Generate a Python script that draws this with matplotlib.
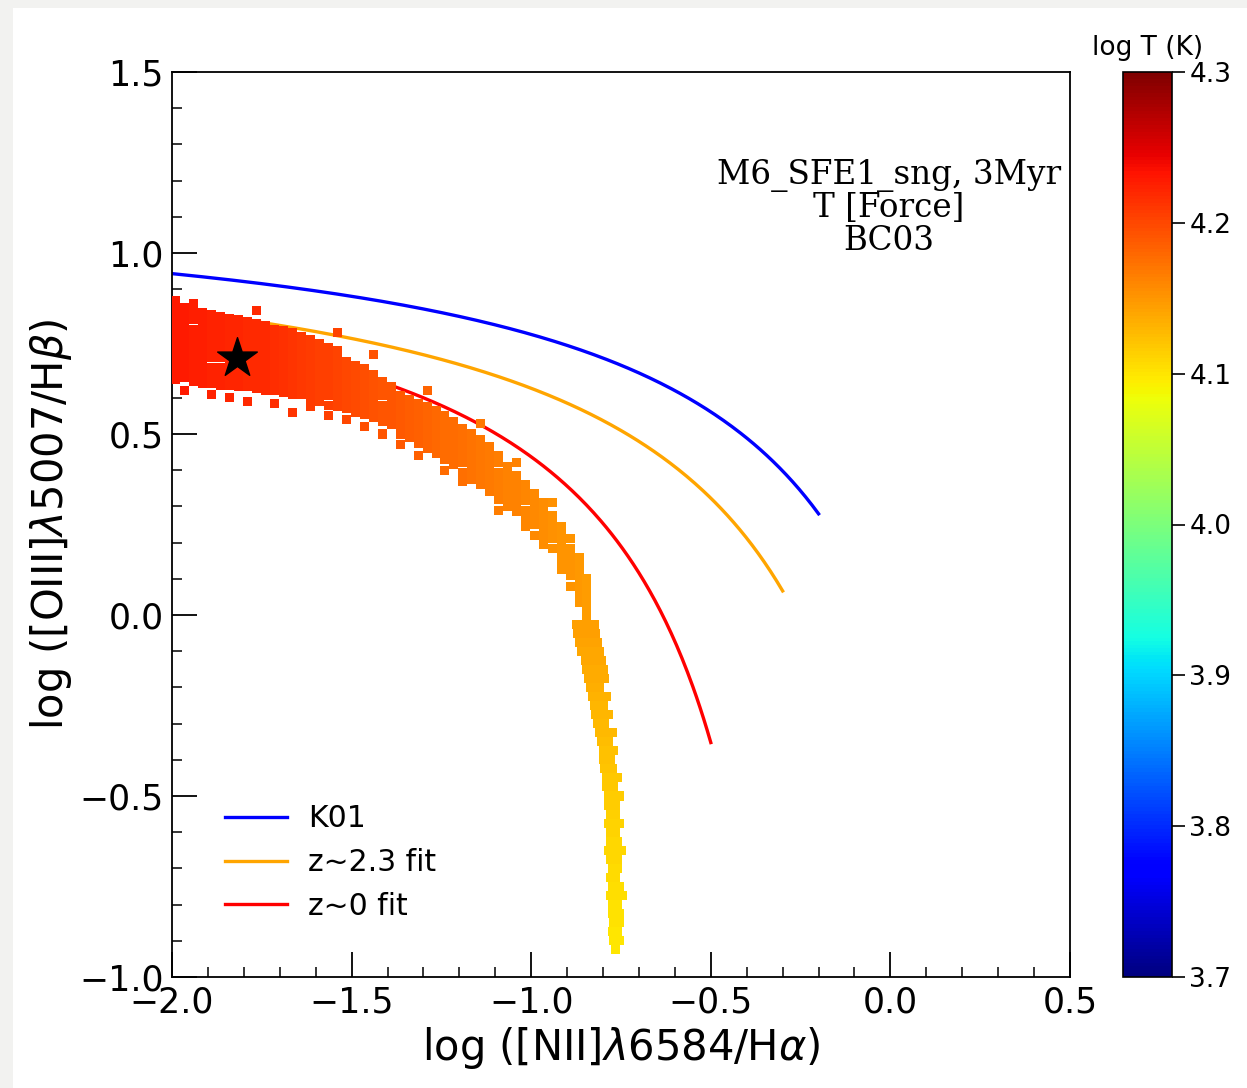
import numpy as np
import matplotlib
matplotlib.use("Agg")
import matplotlib.pyplot as plt
from matplotlib.patches import Rectangle
from matplotlib.ticker import MultipleLocator

# ---------------- data ----------------
# upper branch of the simulated points: column x and the y values in it
cols_x = [-1.99, -1.965, -1.94, -1.915, -1.89, -1.865, -1.84, -1.815, -1.79, -1.765,
          -1.74, -1.715, -1.69, -1.665, -1.64, -1.615, -1.59, -1.565, -1.54, -1.515,
          -1.49, -1.465, -1.44, -1.415, -1.39, -1.365, -1.34, -1.315, -1.29, -1.265,
          -1.24, -1.215, -1.19, -1.165, -1.14, -1.115, -1.09, -1.065, -1.04, -1.015,
          -0.99, -0.965, -0.94, -0.915, -0.89, -0.865, -0.845]
cols_y = [
    [0.65, 0.675, 0.70, 0.725, 0.75, 0.77, 0.795, 0.82, 0.845, 0.87],
    [0.655, 0.68, 0.705, 0.73, 0.755, 0.78, 0.80, 0.825, 0.85, 0.62],
    [0.645, 0.67, 0.695, 0.72, 0.745, 0.77, 0.79, 0.815, 0.84, 0.86],
    [0.64, 0.665, 0.69, 0.715, 0.74, 0.765, 0.79, 0.81, 0.835],
    [0.64, 0.66, 0.685, 0.71, 0.735, 0.76, 0.785, 0.805, 0.83, 0.61],
    [0.635, 0.66, 0.685, 0.71, 0.73, 0.755, 0.78, 0.80, 0.825],
    [0.635, 0.655, 0.68, 0.705, 0.73, 0.755, 0.775, 0.80, 0.82, 0.60],
    [0.63, 0.655, 0.68, 0.70, 0.725, 0.75, 0.775, 0.795, 0.815],
    [0.63, 0.65, 0.675, 0.70, 0.72, 0.745, 0.77, 0.79, 0.81, 0.59],
    [0.625, 0.65, 0.67, 0.695, 0.72, 0.74, 0.765, 0.785, 0.805, 0.84],
    [0.62, 0.645, 0.67, 0.69, 0.715, 0.74, 0.76, 0.78, 0.80],
    [0.62, 0.64, 0.665, 0.69, 0.71, 0.735, 0.755, 0.775, 0.79, 0.585],
    [0.615, 0.64, 0.66, 0.685, 0.705, 0.73, 0.75, 0.77, 0.785],
    [0.61, 0.635, 0.655, 0.68, 0.70, 0.725, 0.745, 0.765, 0.78, 0.56],
    [0.61, 0.63, 0.655, 0.675, 0.70, 0.72, 0.74, 0.76, 0.77],
    [0.60, 0.625, 0.645, 0.67, 0.69, 0.715, 0.735, 0.76, 0.575],
    [0.59, 0.615, 0.64, 0.66, 0.685, 0.705, 0.73, 0.75],
    [0.58, 0.605, 0.63, 0.65, 0.675, 0.70, 0.72, 0.74, 0.55],
    [0.575, 0.60, 0.62, 0.645, 0.665, 0.69, 0.71, 0.73, 0.78],
    [0.57, 0.59, 0.615, 0.635, 0.66, 0.68, 0.70, 0.54],
    [0.56, 0.585, 0.605, 0.63, 0.65, 0.67, 0.69],
    [0.555, 0.575, 0.60, 0.62, 0.645, 0.665, 0.68, 0.52],
    [0.545, 0.57, 0.59, 0.615, 0.635, 0.655, 0.665, 0.72],
    [0.535, 0.56, 0.58, 0.605, 0.625, 0.645, 0.50],
    [0.525, 0.545, 0.57, 0.59, 0.61, 0.63],
    [0.50, 0.525, 0.545, 0.565, 0.585, 0.605, 0.47],
    [0.49, 0.515, 0.535, 0.555, 0.575, 0.595],
    [0.475, 0.50, 0.52, 0.54, 0.565, 0.585, 0.44],
    [0.46, 0.485, 0.505, 0.53, 0.55, 0.575, 0.62],
    [0.445, 0.47, 0.49, 0.515, 0.54, 0.565],
    [0.43, 0.455, 0.475, 0.50, 0.525, 0.55, 0.40],
    [0.415, 0.44, 0.46, 0.485, 0.51, 0.535],
    [0.395, 0.42, 0.445, 0.47, 0.49, 0.515, 0.37],
    [0.375, 0.40, 0.425, 0.45, 0.475, 0.50],
    [0.36, 0.385, 0.41, 0.435, 0.46, 0.485, 0.53],
    [0.34, 0.365, 0.39, 0.415, 0.44, 0.465],
    [0.32, 0.345, 0.37, 0.395, 0.42, 0.44, 0.29],
    [0.30, 0.325, 0.35, 0.375, 0.395, 0.41],
    [0.285, 0.31, 0.335, 0.36, 0.385, 0.42],
    [0.27, 0.29, 0.315, 0.34, 0.36, 0.245],
    [0.25, 0.27, 0.295, 0.315, 0.335, 0.22],
    [0.22, 0.245, 0.27, 0.29, 0.31, 0.195],
    [0.185, 0.21, 0.23, 0.255, 0.275, 0.31],
    [0.15, 0.175, 0.195, 0.22, 0.245, 0.125],
    [0.11, 0.135, 0.16, 0.185, 0.21, 0.08],
    [0.06, 0.085, 0.11, 0.135, 0.16, 0.035],
    [0.00, 0.025, 0.05, 0.075, 0.10],
]
cols_t = [4.228, 4.228, 4.226, 4.226, 4.224, 4.224, 4.222, 4.222, 4.220, 4.220,
          4.218, 4.216, 4.214, 4.212, 4.210, 4.208, 4.206, 4.204, 4.202, 4.200,
          4.198, 4.196, 4.194, 4.192, 4.190, 4.188, 4.186, 4.184, 4.182, 4.180,
          4.178, 4.176, 4.174, 4.172, 4.170, 4.168, 4.166, 4.164, 4.162, 4.160,
          4.158, 4.156, 4.154, 4.152, 4.150, 4.148, 4.146]

# lower (near-vertical) branch: row y and the x values in it
rows_y = [-0.025, -0.05, -0.075, -0.10, -0.125, -0.15, -0.175, -0.20, -0.225, -0.25,
          -0.275, -0.30, -0.325, -0.35, -0.375, -0.40, -0.425, -0.45, -0.475, -0.50,
          -0.525, -0.55, -0.575, -0.60, -0.625, -0.65, -0.675, -0.70, -0.725, -0.75,
          -0.775, -0.80, -0.825, -0.85, -0.875, -0.90, -0.925]
rows_x = [
    [-0.875, -0.85, -0.825], [-0.87, -0.845, -0.82], [-0.865, -0.84, -0.815],
    [-0.86, -0.835, -0.81], [-0.85, -0.83, -0.805], [-0.845, -0.82, -0.80],
    [-0.84, -0.815, -0.795], [-0.835, -0.81], [-0.83, -0.805, -0.79],
    [-0.825, -0.80], [-0.82, -0.80, -0.785], [-0.815, -0.795],
    [-0.81, -0.79, -0.775], [-0.805, -0.785], [-0.80, -0.78, -0.77],
    [-0.80, -0.78], [-0.795, -0.775], [-0.79, -0.775, -0.76],
    [-0.79, -0.77], [-0.785, -0.77, -0.755], [-0.785, -0.765],
    [-0.78, -0.765], [-0.785, -0.77, -0.755], [-0.78, -0.765],
    [-0.78, -0.76], [-0.785, -0.765, -0.75], [-0.78, -0.76],
    [-0.775, -0.76], [-0.78, -0.765], [-0.775, -0.755],
    [-0.78, -0.76, -0.745], [-0.775, -0.76], [-0.775, -0.755],
    [-0.77, -0.755], [-0.775, -0.76], [-0.77, -0.755], [-0.765],
]
rows_t = [4.145, 4.144, 4.142, 4.140, 4.139, 4.137, 4.136, 4.134, 4.133, 4.131,
          4.130, 4.128, 4.127, 4.125, 4.124, 4.122, 4.121, 4.119, 4.118, 4.116,
          4.115, 4.113, 4.112, 4.111, 4.110, 4.109, 4.108, 4.107, 4.106, 4.105,
          4.104, 4.103, 4.102, 4.101, 4.100, 4.100, 4.100]

star_x, star_y = [-1.82], [0.71]

# demarcation curves: y = a / (x - b) + c, drawn up to x_end
curve_labels = ["K01", "z~2.3 fit", "z~0 fit"]
curve_a = [0.61, 0.67, 0.61]
curve_b = [0.47, 0.33, -0.08]
curve_c = [1.19, 1.13, 1.10]
curve_xend = [-0.2, -0.3, -0.5]
curve_colors = ["blue", "orange", "red"]

# ---------------- figure ----------------
fig = plt.figure(figsize=(12.47, 10.88), dpi=100, facecolor="#f2f2f0")
fig.patches.append(Rectangle((13 / 1247, 0), 1, 1 - 8 / 1088, transform=fig.transFigure,
                             facecolor="white", edgecolor="none", zorder=-10))

ax = fig.add_axes([172 / 1247, 1 - 977 / 1088, 898 / 1247, 905 / 1088])
cax = fig.add_axes([1123 / 1247, 1 - 977 / 1088, 49 / 1247, 905 / 1088])

for lab, a, b, c, xe, col in zip(curve_labels, curve_a, curve_b, curve_c, curve_xend, curve_colors):
    xx = np.linspace(-2.0, xe, 300)
    ax.plot(xx, a / (xx - b) + c, color=col, lw=2.4, label=lab, zorder=2)

px, py, pt = [], [], []
for x, ys, t in zip(cols_x, cols_y, cols_t):
    for y in ys:
        px.append(x); py.append(y); pt.append(t)
for y, xs, t in zip(rows_y, rows_x, rows_t):
    for x in xs:
        px.append(x); py.append(y); pt.append(t)

sc = ax.scatter(px, py, c=pt, cmap="jet", vmin=3.7, vmax=4.3, marker="s", s=42,
                linewidths=0, zorder=3)
ax.scatter(star_x, star_y, marker="*", s=900, color="black", zorder=5)

ax.set_xlim(-2.0, 0.5)
ax.set_ylim(-1.0, 1.5)
ax.xaxis.set_major_locator(MultipleLocator(0.5))
ax.yaxis.set_major_locator(MultipleLocator(0.5))
ax.xaxis.set_minor_locator(MultipleLocator(0.1))
ax.yaxis.set_minor_locator(MultipleLocator(0.1))
ax.tick_params(which="major", direction="in", length=18, width=1.3, labelsize=25, pad=6)
ax.tick_params(which="minor", direction="in", length=7, width=1.1)
for sp in ax.spines.values():
    sp.set_linewidth(1.3)

ax.set_xlabel(r"log ([NII]$\lambda$6584/H$\alpha$)", fontsize=30, labelpad=4)
ax.set_ylabel(r"log ([OIII]$\lambda$5007/H$\beta$)", fontsize=30, labelpad=4)

ax.text(0.798, 0.904, "M6_SFE1_sng, 3Myr\nT [Force]\nBC03", transform=ax.transAxes,
        ha="center", va="top", family="DejaVu Serif", fontsize=23.5, linespacing=1.02)

ax.legend(loc="lower left", bbox_to_anchor=(0.059, 0.062), frameon=False, fontsize=21.5,
          handlelength=2.07, handletextpad=0.7, labelspacing=0.5, borderpad=0, borderaxespad=0)

cb = fig.colorbar(sc, cax=cax, ticks=[3.7, 3.8, 3.9, 4.0, 4.1, 4.2, 4.3])
cb.ax.tick_params(labelsize=19, length=9, width=1.2, direction="out")
cb.outline.set_linewidth(1.2)
cax.set_title("log T (K)", fontsize=19, pad=12)

fig.savefig("out.png", dpi=100, facecolor=fig.get_facecolor())
